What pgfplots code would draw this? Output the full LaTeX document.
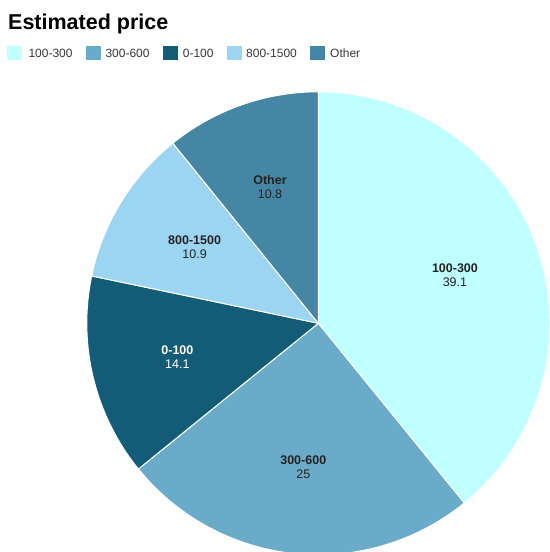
\documentclass[border=0pt]{standalone}
\usepackage{pgfplots}
\pgfplotsset{compat=1.18}
\usepackage{pgfplotstable}
\usepackage{fontspec}
\setmainfont{Liberation Sans}
\definecolor{cA}{HTML}{BFFFFF}
\definecolor{cB}{HTML}{6AABC9}
\definecolor{cC}{HTML}{135C77}
\definecolor{cD}{HTML}{9CD5F1}
\definecolor{cE}{HTML}{4486A3}
\definecolor{txt}{HTML}{222222}

\pgfplotstableread{
name value fc tc lx
100-300 39.1 cA txt 28.3
300-600 25 cB txt 105.3
0-100 14.1 cC white 182.7
800-1500 10.9 cD txt 246
Other 10.8 cE txt 330
}\piedata

\begin{document}
\begin{tikzpicture}
\path[use as bounding box, clip] (0,0) rectangle (550bp,552bp);
% total and cumulative angles from the table
\gdef\total{0}
\pgfplotsforeachungrouped \i in {0,...,4}{%
  \pgfplotstablegetelem{\i}{value}\of\piedata
  \pgfmathsetmacro\tmp{\total+\pgfplotsretval}%
  \xdef\total{\tmp}%
}
\gdef\cum{0}
\pgfplotsforeachungrouped \i in {0,...,4}{%
  \pgfplotstablegetelem{\i}{value}\of\piedata
  \let\v\pgfplotsretval
  \expandafter\xdef\csname val\i\endcsname{\v}%
  \pgfmathsetmacro\sa{90-(\cum/\total)*360}%
  \pgfmathsetmacro\newcum{\cum+\v}%
  \pgfmathsetmacro\ea{90-(\newcum/\total)*360}%
  \pgfmathsetmacro\ma{(\sa+\ea)/2}%
  \expandafter\xdef\csname sa\i\endcsname{\sa}%
  \expandafter\xdef\csname ea\i\endcsname{\ea}%
  \expandafter\xdef\csname ma\i\endcsname{\ma}%
  \xdef\cum{\newcum}%
  \pgfplotstablegetelem{\i}{name}\of\piedata
  \expandafter\xdef\csname nm\i\endcsname{\pgfplotsretval}%
  \pgfplotstablegetelem{\i}{fc}\of\piedata
  \expandafter\xdef\csname fc\i\endcsname{\pgfplotsretval}%
  \pgfplotstablegetelem{\i}{tc}\of\piedata
  \expandafter\xdef\csname tc\i\endcsname{\pgfplotsretval}%
  \pgfplotstablegetelem{\i}{lx}\of\piedata
  \expandafter\xdef\csname lx\i\endcsname{\pgfplotsretval}%
}
\begin{axis}[
  hide axis, scale only axis, clip=false,
  width=463bp, height=463bp,
  xmin=-1, xmax=1, ymin=-1, ymax=1,
  at={(318.3bp,228.7bp)}, anchor=center,
]
\pgfplotsinvokeforeach{0,...,4}{%
  \fill[fill=\csname fc#1\endcsname, draw=white, line width=1bp, line join=round]
    (axis cs:0,0) -- ++(\csname sa#1\endcsname:231.5bp)
    arc[start angle=\csname sa#1\endcsname, end angle=\csname ea#1\endcsname, radius=231.5bp] -- cycle;
}
\pgfplotsinvokeforeach{0,...,4}{%
  \path (axis cs:0,0) ++(\csname ma#1\endcsname:145bp) node[align=center, text=\csname tc#1\endcsname,
    font=\fontsize{12.5bp}{14bp}\selectfont, inner sep=0pt]
    {\textbf{\csname nm#1\endcsname}\\\csname val#1\endcsname};
}
\end{axis}
% title
\node[anchor=base west, inner sep=0pt, font=\fontsize{21.5bp}{25bp}\selectfont\bfseries] at (8bp,522bp) {Estimated price};
% legend
\foreach \i/\sx in {0/7.3,1/86,2/163.3,3/226.7,4/310}{%
  \fill[\csname fc\i\endcsname] (\sx bp,492bp) rectangle ++(15bp,14bp);
  \node[anchor=base west, inner sep=0pt, text=txt!90, font=\fontsize{12bp}{14bp}\selectfont]
    at (\csname lx\i\endcsname bp,494.7bp) {\csname nm\i\endcsname};
}
\end{tikzpicture}
\end{document}
